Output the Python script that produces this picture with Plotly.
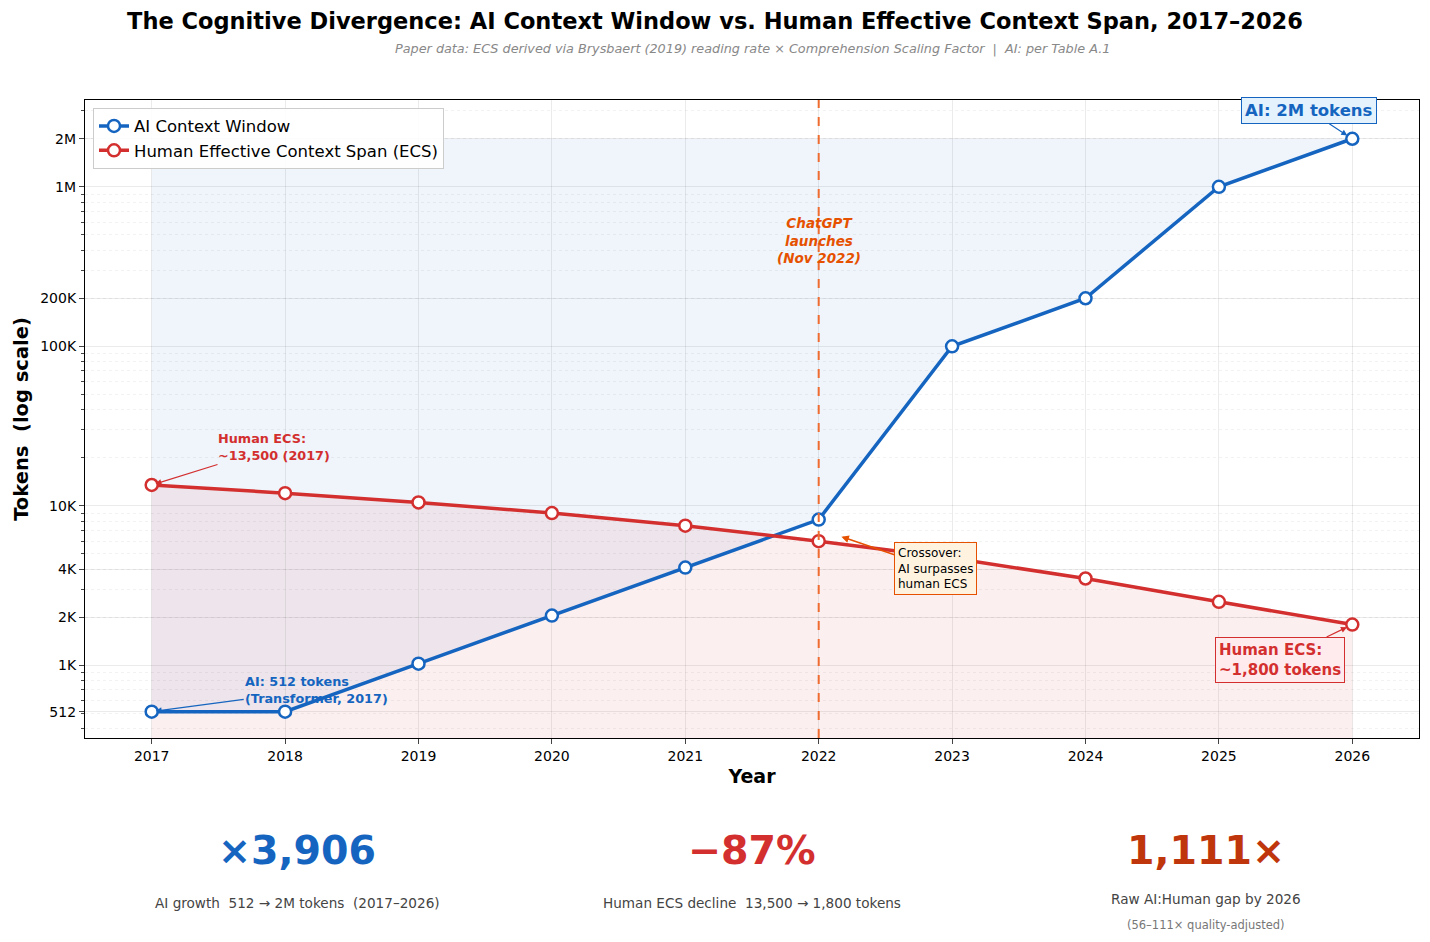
import math
import plotly.graph_objects as go

years = [2017, 2018, 2019, 2020, 2021, 2022, 2023, 2024, 2025, 2026]
ai_tokens = [512, 512, 1024, 2048, 4096, 8192, 100000, 200000, 1000000, 2000000]
human_ecs = [13500, 12000, 10500, 9000, 7500, 6000, 4700, 3500, 2500, 1800]

tick_vals = [512, 1000, 2000, 4000, 10000, 100000, 200000, 1000000, 2000000]
tick_text = ["512", "1K", "2K", "4K", "10K", "100K", "200K", "1M", "2M"]

BLUE = "#1565C0"
RED = "#D32F2F"
ORANGE = "#E65100"
DARK = "#BF360C"
Y_LO, Y_HI = 350, 3.5e6

# log-axis minor ticks (2..9 x each decade)
minor_vals = [m * 10 ** e for e in range(2, 7) for m in range(2, 10)
              if Y_LO <= m * 10 ** e <= Y_HI]

fig = go.Figure()

# blue band: AI line up to its 2026 peak
fig.add_trace(go.Scatter(x=years, y=[max(ai_tokens)] * len(years), mode="lines",
                         line=dict(width=0), showlegend=False, hoverinfo="skip"))
fig.add_trace(go.Scatter(x=years, y=ai_tokens, mode="lines", line=dict(width=0),
                         fill="tonexty", fillcolor="rgba(21,101,192,0.065)",
                         showlegend=False, hoverinfo="skip"))
# red band: below the human line
fig.add_trace(go.Scatter(x=years, y=[Y_LO] * len(years), mode="lines",
                         line=dict(width=0), showlegend=False, hoverinfo="skip"))
fig.add_trace(go.Scatter(x=years, y=human_ecs, mode="lines", line=dict(width=0),
                         fill="tonexty", fillcolor="rgba(211,47,47,0.08)",
                         showlegend=False, hoverinfo="skip"))

fig.add_trace(go.Scatter(
    x=years, y=ai_tokens, mode="lines+markers", name="AI Context Window",
    line=dict(color=BLUE, width=3.5),
    marker=dict(size=12, color="white", line=dict(color=BLUE, width=2.5)),
))
fig.add_trace(go.Scatter(
    x=years, y=human_ecs, mode="lines+markers", name="Human Effective Context Span (ECS)",
    line=dict(color=RED, width=3.5),
    marker=dict(size=12, color="white", line=dict(color=RED, width=2.5)),
))

fig.add_vline(x=2022, line=dict(color="#EF6C30", width=2, dash="dash"))

ann = [
    dict(x=2022, y=math.log10(460000), text="<b><i>ChatGPT<br>launches<br>(Nov 2022)</i></b>",
         showarrow=False, font=dict(size=13.5, color=ORANGE)),
    dict(x=2017, y=math.log10(human_ecs[0]), text="<b>Human ECS:<br>~13,500 (2017)</b>",
         ax=122, ay=-38, align="left", font=dict(size=12.8, color=RED),
         arrowcolor=RED, arrowwidth=1.2, arrowhead=2, arrowsize=1, standoff=4),
    dict(x=2017, y=math.log10(ai_tokens[0]), text="<b>AI: 512 tokens<br>(Transformer, 2017)</b>",
         ax=165, ay=-22, align="left", font=dict(size=12.8, color=BLUE),
         arrowcolor=BLUE, arrowwidth=1.2, arrowhead=2, arrowsize=1, standoff=4),
    dict(x=2022.17, y=math.log10(6400), text="Crossover:<br>AI surpasses<br>human ECS",
         ax=94, ay=32, align="left", font=dict(size=12, color="black"),
         bgcolor="#FFF3E0", bordercolor=ORANGE, borderwidth=1, borderpad=3,
         arrowcolor=ORANGE, arrowwidth=1.5, arrowhead=2, arrowsize=1),
    dict(x=2026, y=math.log10(ai_tokens[-1]), text="<b>AI: 2M tokens</b>",
         ax=-43, ay=-28, font=dict(size=16.5, color=BLUE),
         bgcolor="#E3F2FD", bordercolor=BLUE, borderwidth=1, borderpad=3,
         arrowcolor=BLUE, arrowwidth=1.2, arrowhead=2, arrowsize=1, standoff=6),
    dict(x=2026, y=math.log10(human_ecs[-1]), text="<b>Human ECS:<br>~1,800 tokens</b>",
         ax=-72, ay=35, align="left", font=dict(size=15, color=RED),
         bgcolor="#FFEBEE", bordercolor=RED, borderwidth=1, borderpad=3,
         arrowcolor=RED, arrowwidth=1.2, arrowhead=2, arrowsize=1, standoff=6),
    # subtitle
    dict(xref="paper", yref="paper", x=0.5, y=1.08, showarrow=False,
         xanchor="center", yanchor="middle",
         text="<i>Paper data: ECS derived via Brysbaert (2019) reading rate × Comprehension Scaling Factor  |  AI: per Table A.1</i>",
         font=dict(size=12.8, color="#888888")),
]

# bottom stats panel
stats = [
    (0.159, "×3,906", BLUE, "AI growth  512 → 2M tokens  (2017–2026)", -0.259, None),
    (0.5, "−87%", RED, "Human ECS decline  13,500 → 1,800 tokens", -0.259, None),
    (0.84, "1,111×", DARK, "Raw AI:Human gap by 2026", -0.252, "(56–111× quality-adjusted)"),
]
for sx, big, col, cap, cap_y, sub in stats:
    ann.append(dict(xref="paper", yref="paper", x=sx, y=-0.176, showarrow=False,
                    xanchor="center", yanchor="middle",
                    text=f"<b>{big}</b>", font=dict(size=39.5, color=col)))
    ann.append(dict(xref="paper", yref="paper", x=sx, y=cap_y, showarrow=False,
                    xanchor="center", yanchor="middle",
                    text=cap, font=dict(size=13.6, color="#444444")))
    if sub:
        ann.append(dict(xref="paper", yref="paper", x=sx, y=-0.293, showarrow=False,
                        xanchor="center", yanchor="middle",
                        text=sub, font=dict(size=11.5, color="#777777")))

fig.update_layout(
    width=1430, height=942,
    margin=dict(l=85, r=11, t=100, b=204),
    paper_bgcolor="white", plot_bgcolor="white",
    font=dict(family="DejaVu Sans", size=14, color="black"),
    title=dict(text="<b>The Cognitive Divergence: AI Context Window vs. Human Effective Context Span, 2017–2026</b>",
               x=0.5, xanchor="center", y=1 - 21 / 942, yanchor="middle",
               font=dict(size=22.5, color="black")),
    legend=dict(x=0.006, y=0.988, xanchor="left", yanchor="top", traceorder="normal",
                bgcolor="rgba(255,255,255,0.9)", bordercolor="#cccccc", borderwidth=1,
                font=dict(size=16.5)),
    annotations=ann,
    showlegend=True,
)

fig.update_xaxes(
    range=[2016.5, 2026.5], tickvals=years, ticks="outside", ticklen=5,
    showline=True, linecolor="black", linewidth=1.2, mirror=True, automargin=False,
    showgrid=True, gridcolor="rgba(0,0,0,0.08)", zeroline=False,
    title=dict(text="<b>Year</b>", font=dict(size=19), standoff=6),
)
fig.update_yaxes(
    type="log", range=[math.log10(Y_LO), math.log10(Y_HI)],
    tickvals=tick_vals, ticktext=tick_text, ticks="outside", ticklen=5,
    showline=True, linecolor="black", linewidth=1.2, mirror=True, automargin=False,
    showgrid=True, gridcolor="rgba(0,0,0,0.08)", zeroline=False,
    minor=dict(tickvals=minor_vals, ticks="outside", ticklen=3, showgrid=True,
               gridcolor="rgba(0,0,0,0.05)", griddash="dot"),
    title=dict(text="<b>Tokens  (log scale)</b>", font=dict(size=19.5), standoff=6),
)

fig.write_html("out.html", config={"displayModeBar": False},
               post_script="document.body.style.margin='0';")
